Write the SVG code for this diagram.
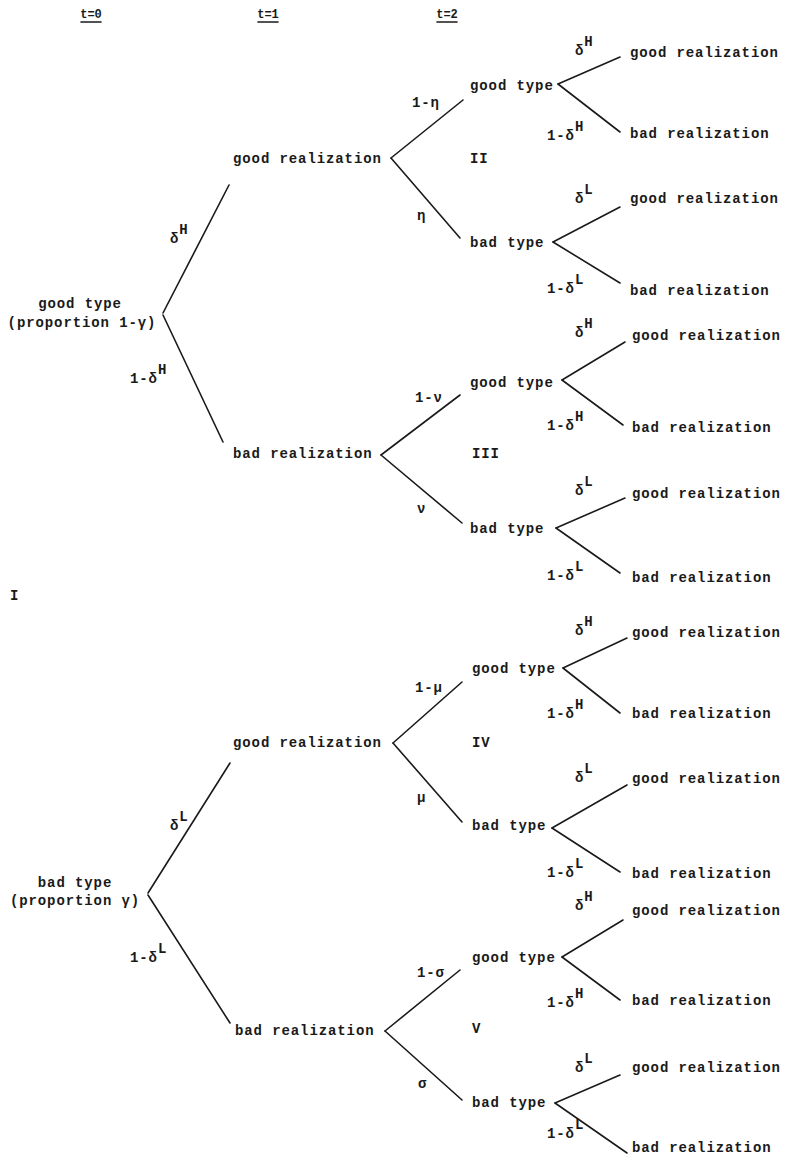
<svg xmlns="http://www.w3.org/2000/svg" width="786" height="1161" viewBox="0 0 786 1161">
<style>
.t{font-family:"Liberation Mono","DejaVu Sans Mono",monospace;font-weight:bold;font-size:14px;letter-spacing:0.9px;fill:#1a1a1a}
.h{font-family:"Liberation Mono","DejaVu Sans Mono",monospace;font-weight:bold;font-size:12px;fill:#1a1a1a}
.m{text-anchor:middle}
.c line{stroke:#1a1a1a;stroke-width:1.6;stroke-linecap:round}
</style>
<rect width="786" height="1161" fill="#fff"/>
<g id="headers">
<text class="h m" x="91" y="18">t=0</text>
<text class="h m" x="268" y="18">t=1</text>
<text class="h m" x="447" y="18">t=2</text>
<g class="c"><line x1="81" y1="22" x2="101" y2="22"/><line x1="258" y1="22" x2="278" y2="22"/><line x1="437" y1="22" x2="457" y2="22"/></g>
</g>
<g id="connectors" class="c">
<line x1="163" y1="313" x2="229" y2="185"/>
<line x1="163" y1="315" x2="223" y2="442"/>
<line x1="391" y1="158" x2="463" y2="100"/>
<line x1="391" y1="158" x2="460" y2="238"/>
<line x1="558" y1="84" x2="620" y2="57"/>
<line x1="558" y1="84" x2="620" y2="132"/>
<line x1="553" y1="242" x2="620" y2="207"/>
<line x1="553" y1="242" x2="620" y2="283"/>
<line x1="381" y1="455" x2="460" y2="395"/>
<line x1="381" y1="455" x2="462" y2="523"/>
<line x1="562" y1="380" x2="625" y2="342"/>
<line x1="562" y1="380" x2="623" y2="425"/>
<line x1="556" y1="528" x2="625" y2="498"/>
<line x1="556" y1="528" x2="620" y2="573"/>
<line x1="148" y1="893" x2="230" y2="763"/>
<line x1="148" y1="895" x2="230" y2="1023"/>
<line x1="393" y1="743" x2="462" y2="682"/>
<line x1="393" y1="743" x2="462" y2="822"/>
<line x1="563" y1="668" x2="627" y2="638"/>
<line x1="563" y1="668" x2="620" y2="713"/>
<line x1="552" y1="828" x2="627" y2="785"/>
<line x1="552" y1="828" x2="620" y2="872"/>
<line x1="385" y1="1031" x2="460" y2="970"/>
<line x1="385" y1="1031" x2="462" y2="1100"/>
<line x1="562" y1="957" x2="623" y2="920"/>
<line x1="562" y1="957" x2="620" y2="1000"/>
<line x1="555" y1="1103" x2="620" y2="1075"/>
<line x1="555" y1="1103" x2="627" y2="1153"/>
</g>
<g id="root-good">
<text class="t m" x="80" y="308">good type</text>
<text class="t m" x="82" y="327">(proportion 1-γ)</text>
<text class="t" x="170" y="243">δ<tspan dy="-9">H</tspan></text>
<text class="t" x="130" y="383">1-δ<tspan dy="-9">H</tspan></text>
</g>
<g id="block-II">
<text class="t" x="233" y="163">good realization</text>
<text class="t" x="412" y="107">1-η</text>
<text class="t" x="417" y="220">η</text>
<text class="t" x="470" y="163">II</text>
<text class="t" x="470" y="90">good type</text>
<text class="t" x="575" y="55">δ<tspan dy="-9">H</tspan></text>
<text class="t" x="630" y="57">good realization</text>
<text class="t" x="547" y="140">1-δ<tspan dy="-9">H</tspan></text>
<text class="t" x="630" y="138">bad realization</text>
<text class="t" x="470" y="247">bad type</text>
<text class="t" x="575" y="203">δ<tspan dy="-9">L</tspan></text>
<text class="t" x="630" y="203">good realization</text>
<text class="t" x="547" y="293">1-δ<tspan dy="-9">L</tspan></text>
<text class="t" x="630" y="295">bad realization</text>
</g>
<g id="block-III">
<text class="t" x="233" y="458">bad realization</text>
<text class="t" x="415" y="402">1-ν</text>
<text class="t" x="417" y="513">ν</text>
<text class="t" x="472" y="458">III</text>
<text class="t" x="470" y="387">good type</text>
<text class="t" x="575" y="337">δ<tspan dy="-9">H</tspan></text>
<text class="t" x="632" y="340">good realization</text>
<text class="t" x="547" y="430">1-δ<tspan dy="-9">H</tspan></text>
<text class="t" x="632" y="432">bad realization</text>
<text class="t" x="470" y="533">bad type</text>
<text class="t" x="575" y="495">δ<tspan dy="-9">L</tspan></text>
<text class="t" x="632" y="498">good realization</text>
<text class="t" x="547" y="580">1-δ<tspan dy="-9">L</tspan></text>
<text class="t" x="632" y="582">bad realization</text>
</g>
<g id="label-I"><text class="t" x="10" y="600">I</text></g>
<g id="root-bad">
<text class="t m" x="75" y="887">bad type</text>
<text class="t m" x="75" y="905">(proportion γ)</text>
<text class="t" x="170" y="830">δ<tspan dy="-9">L</tspan></text>
<text class="t" x="130" y="962">1-δ<tspan dy="-9">L</tspan></text>
</g>
<g id="block-IV">
<text class="t" x="233" y="747">good realization</text>
<text class="t" x="415" y="692">1-μ</text>
<text class="t" x="417" y="802">μ</text>
<text class="t" x="472" y="747">IV</text>
<text class="t" x="472" y="673">good type</text>
<text class="t" x="575" y="635">δ<tspan dy="-9">H</tspan></text>
<text class="t" x="632" y="637">good realization</text>
<text class="t" x="547" y="718">1-δ<tspan dy="-9">H</tspan></text>
<text class="t" x="632" y="718">bad realization</text>
<text class="t" x="472" y="830">bad type</text>
<text class="t" x="575" y="782">δ<tspan dy="-9">L</tspan></text>
<text class="t" x="632" y="783">good realization</text>
<text class="t" x="547" y="877">1-δ<tspan dy="-9">L</tspan></text>
<text class="t" x="632" y="878">bad realization</text>
</g>
<g id="block-V">
<text class="t" x="235" y="1035">bad realization</text>
<text class="t" x="417" y="977">1-σ</text>
<text class="t" x="418" y="1088">σ</text>
<text class="t" x="472" y="1033">V</text>
<text class="t" x="472" y="962">good type</text>
<text class="t" x="575" y="910">δ<tspan dy="-9">H</tspan></text>
<text class="t" x="632" y="915">good realization</text>
<text class="t" x="547" y="1007">1-δ<tspan dy="-9">H</tspan></text>
<text class="t" x="632" y="1005">bad realization</text>
<text class="t" x="472" y="1107">bad type</text>
<text class="t" x="575" y="1072">δ<tspan dy="-9">L</tspan></text>
<text class="t" x="632" y="1072">good realization</text>
<text class="t" x="547" y="1138">1-δ<tspan dy="-9">L</tspan></text>
<text class="t" x="632" y="1152">bad realization</text>
</g>
</svg>
